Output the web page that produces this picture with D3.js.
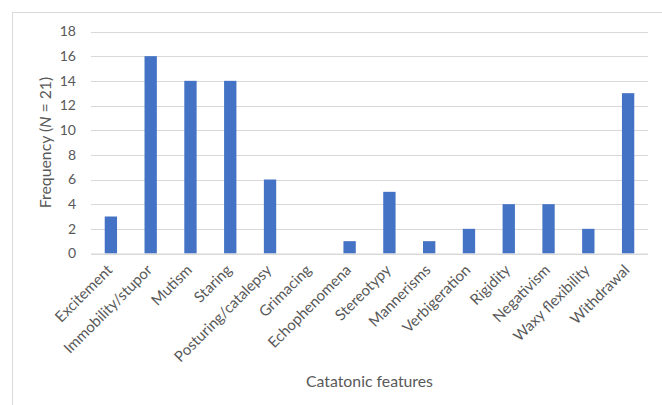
<!DOCTYPE html>
<html><head><meta charset="utf-8">
<script src="https://cdn.jsdelivr.net/npm/d3@7"></script>
<style>
html,body{margin:0;padding:0;background:#fff;}
text{font-family:Lato,"Liberation Sans",sans-serif;fill:#595959;}
</style></head>
<body><svg id="c" width="662" height="405"></svg>
<script>
const categories = ["Excitement","Immobility/stupor","Mutism","Staring","Posturing/catalepsy","Grimacing","Echophenomena","Stereotypy","Mannerisms","Verbigeration","Rigidity","Negativism","Waxy flexibility","Withdrawal"];
const values = [3,16,14,14,6,0,1,5,1,2,4,4,2,13];
const yTicks = [0,2,4,6,8,10,12,14,16,18];
const xTitle = "Catatonic features";

const svg = d3.select("#c");
// chart frame
svg.append("rect").attr("x",12.5).attr("y",12.5).attr("width",700).attr("height",500)
  .attr("fill","#fff").attr("stroke","#d9d9d9").attr("stroke-width",1);

const pLeft=91, pRight=648, pTop=31.5, pBottom=253.5;
const x = d3.scaleBand().domain(categories).range([pLeft,pRight]).paddingInner(0.69).paddingOuter(0.345);
const y = d3.scaleLinear().domain([0,18]).range([pBottom,pTop]);

// gridlines
svg.append("g").selectAll("line").data(yTicks).join("line")
  .attr("x1",pLeft).attr("x2",pRight)
  .attr("y1",d=>Math.round(y(d))+0.5).attr("y2",d=>Math.round(y(d))+0.5)
  .attr("stroke","#d9d9d9").attr("stroke-width",1);

// y axis labels
const yAxis = d3.axisLeft(y).tickValues(yTicks).tickSize(0).tickPadding(0);
const gy = svg.append("g").attr("transform",`translate(${pLeft-15},0)`).call(yAxis);
gy.select(".domain").remove();
gy.selectAll("text").style("font-size","14px").attr("fill","#595959").style("font-family","Lato, 'Liberation Sans', sans-serif");

// bars
svg.append("g").selectAll("rect").data(values).join("rect")
  .attr("x",(d,i)=>x(categories[i])).attr("width",x.bandwidth())
  .attr("y",d=>y(d)).attr("height",d=>y(0)-y(d))
  .attr("fill","#4472C4");

// x axis
const xAxis = d3.axisBottom(x).tickSize(0).tickPadding(0);
const gx = svg.append("g").attr("transform",`translate(0,${pBottom})`).call(xAxis);
gx.select(".domain").remove();
gx.selectAll(".tick text")
  .attr("text-anchor","end").attr("fill","#595959")
  .style("font-size","15px").style("font-family","Lato, 'Liberation Sans', sans-serif")
  .attr("y",0).attr("dy",0)
  .attr("transform","translate(2.5,17.5) rotate(-45)");
// x axis line
svg.append("line").attr("x1",pLeft).attr("x2",pRight).attr("y1",pBottom+0.5).attr("y2",pBottom+0.5)
  .attr("stroke","#d9d9d9").attr("stroke-width",1);

// axis titles
svg.append("text").attr("x",(pLeft+pRight)/2).attr("y",387).attr("text-anchor","middle")
  .style("font-size","15.8px").text(xTitle);
const yt = svg.append("text").attr("transform",`translate(51,${(pTop+pBottom)/2}) rotate(-90)`)
  .attr("text-anchor","middle").style("font-size","15.8px");
yt.append("tspan").text("Frequency (");
yt.append("tspan").style("font-style","italic").text("N");
yt.append("tspan").text(" = 21)");
</script></body></html>
